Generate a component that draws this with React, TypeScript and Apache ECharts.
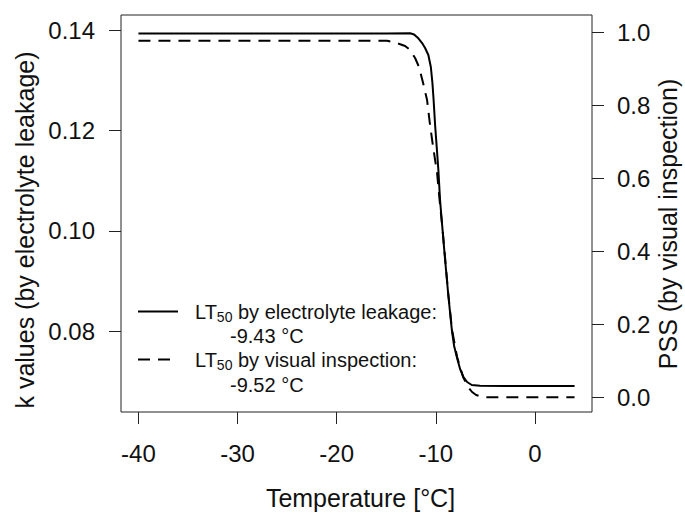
import React, { useEffect, useRef } from "react";
import * as echarts from "echarts";

// Temperature ticks and labels
const xTicks = [-40, -30, -20, -10, 0];
const kTicks = [0.08, 0.1, 0.12, 0.14];
const pssTicks = [0, 0.2, 0.4, 0.6, 0.8, 1.0];

// Electrolyte leakage fit (k values, left axis)
const tempK = [
  -40, -30, -20, -15, -12.59, -12.19, -11.76, -11.38, -11.08, -10.75, -10.5, -10.34,
  -10.22, -10.07, -9.87, -9.74, -9.57, -9.36, -9.06, -8.73, -8.38, -8.15, -7.88,
  -7.55, -7.21, -6.84, -6.37, -5.53, -3, 0, 4,
];
const kValues = [
  0.1393, 0.1393, 0.1393, 0.1393, 0.13935, 0.13911, 0.13836, 0.13742, 0.13643,
  0.13503, 0.13264, 0.12945, 0.12607, 0.12108, 0.1157, 0.11212, 0.10614, 0.10116,
  0.09419, 0.08701, 0.08024, 0.07705, 0.07486, 0.07247, 0.07088, 0.06988, 0.06928,
  0.06914, 0.0691, 0.0691, 0.0691,
];

// Visual inspection fit (PSS, right axis)
const tempPSS = [
  -40, -30, -20, -14.91, -14.11, -13.1, -12.59, -12.09, -11.69, -11.28, -10.88,
  -10.58, -10.27, -9.87, -9.57, -9.36, -9.06, -8.76, -8.36, -7.85, -7.25, -6.74,
  -6.34, -5.93, -5.33, -4.52, -2, 0, 4,
];
const pssValues = [
  0.977, 0.977, 0.977, 0.977, 0.9721, 0.9625, 0.9515, 0.9296, 0.9049, 0.8611,
  0.8145, 0.746, 0.6858, 0.6145, 0.5268, 0.472, 0.3816, 0.2885, 0.1843, 0.1104,
  0.0556, 0.0282, 0.0145, 0.0063, 0.0008, 0, 0, 0, 0,
];

const legendLabels = ["by electrolyte leakage:", "by visual inspection:"];
const legendValues = ["-9.43 °C", "-9.52 °C"];
const leftTitle = "k values (by electrolyte leakage)";
const rightTitle = "PSS (by visual inspection)";
const xTitle = "Temperature [°C]";

const FONT = "'Liberation Sans', Arial, sans-serif";
const TXT = "#111";

function measure(text: string, size: number): number {
  const c = document.createElement("canvas").getContext("2d");
  if (!c) return text.length * size * 0.55;
  c.font = `${size}px 'Liberation Sans'`;
  return c.measureText(text).width;
}

export default function App() {
  const ref = useRef<HTMLDivElement>(null);

  useEffect(() => {
    document.body.style.margin = "0";
    if (!ref.current) return;
    const chart = echarts.init(ref.current, null, { renderer: "svg" });

    const items: any[] = [];
    const rows = [
      { y: 311.5, dash: null as any, vy: 335.5 },
      { y: 359.5, dash: [12, 8], vy: 385 },
    ];
    rows.forEach((r, i) => {
      items.push({
        type: "line",
        shape: { x1: 138, y1: r.y, x2: 178, y2: r.y },
        style: { stroke: "#000", lineWidth: 2, lineDash: r.dash || undefined },
      });
      const x0 = 195;
      const wLT = measure("LT", 20);
      const w50 = measure("50", 14);
      items.push({
        type: "text",
        x: x0,
        y: r.y,
        style: { text: "LT", fontSize: 20, fontFamily: FONT, fill: TXT, verticalAlign: "middle" },
      });
      items.push({
        type: "text",
        x: x0 + wLT,
        y: r.y + 5,
        style: { text: "50", fontSize: 14, fontFamily: FONT, fill: TXT, verticalAlign: "middle" },
      });
      items.push({
        type: "text",
        x: x0 + wLT + w50,
        y: r.y,
        style: {
          text: " " + legendLabels[i],
          fontSize: 20,
          fontFamily: FONT,
          fill: TXT,
          verticalAlign: "middle",
        },
      });
      items.push({
        type: "text",
        x: 230,
        y: r.vy,
        style: { text: legendValues[i], fontSize: 20, fontFamily: FONT, fill: TXT, verticalAlign: "middle" },
      });
    });

    items.push({
      type: "text",
      x: 25,
      y: 230,
      rotation: Math.PI / 2,
      style: {
        text: leftTitle,
        fontSize: 25,
        fontFamily: FONT,
        fill: TXT,
        align: "center",
        verticalAlign: "middle",
      },
    });
    items.push({
      type: "text",
      x: 668,
      y: 224,
      rotation: Math.PI / 2,
      style: {
        text: rightTitle,
        fontSize: 25,
        fontFamily: FONT,
        fill: TXT,
        align: "center",
        verticalAlign: "middle",
      },
    });

    const tickStyle = { color: "#222", width: 1 };

    chart.setOption({
      animation: false,
      backgroundColor: "#fff",
      grid: {
        left: 121,
        right: 93,
        top: 15,
        bottom: 102,
        show: true,
        borderColor: "#222",
        borderWidth: 1,
        containLabel: false,
        outerBoundsMode: "none",
      },
      xAxis: {
        type: "value",
        min: -41.76,
        max: 5.76,
        axisLine: { show: false, onZero: false },
        splitLine: { show: false },
        axisTick: { show: true, customValues: xTicks, length: 12, lineStyle: tickStyle },
        axisLabel: {
          customValues: xTicks,
          margin: 29,
          fontSize: 24,
          fontFamily: FONT,
          color: TXT,
          formatter: (v: number) => String(v),
        },
        name: xTitle,
        nameLocation: "middle",
        nameGap: 73,
        nameTextStyle: { fontSize: 25, fontFamily: FONT, color: TXT, padding: [0, 0, 0, 8] },
      },
      yAxis: [
        {
          type: "value",
          position: "left",
          min: 0.0639,
          max: 0.143,
          axisLine: { show: false, onZero: false },
          splitLine: { show: false },
          axisTick: { show: true, customValues: kTicks, length: 12, lineStyle: tickStyle },
          axisLabel: {
            customValues: kTicks,
            margin: 26,
            fontSize: 24,
            fontFamily: FONT,
            color: TXT,
            verticalAlign: "middle",
            padding: [6, 0, 0, 0],
            formatter: (v: number) => v.toFixed(2),
          },
        },
        {
          type: "value",
          position: "right",
          min: -0.0403,
          max: 1.0474,
          axisLine: { show: false, onZero: false },
          splitLine: { show: false },
          axisTick: { show: true, customValues: pssTicks, length: 12, lineStyle: tickStyle },
          axisLabel: {
            customValues: pssTicks,
            margin: 25,
            fontSize: 24,
            fontFamily: FONT,
            color: TXT,
            verticalAlign: "middle",
            padding: [6, 0, 0, 0],
            formatter: (v: number) => v.toFixed(1),
          },
        },
      ],
      series: [
        {
          type: "line",
          yAxisIndex: 0,
          data: tempK.map((t, i) => [t, kValues[i]]),
          showSymbol: false,
          symbol: "none",
          lineStyle: { color: "#000", width: 2 },
        },
        {
          type: "line",
          yAxisIndex: 1,
          data: tempPSS.map((t, i) => [t, pssValues[i]]),
          showSymbol: false,
          symbol: "none",
          lineStyle: { color: "#000", width: 2, type: [12, 8] },
        },
      ],
      graphic: items,
    });

    return () => chart.dispose();
  }, []);

  return <div ref={ref} style={{ width: 685, height: 514 }} />;
}
